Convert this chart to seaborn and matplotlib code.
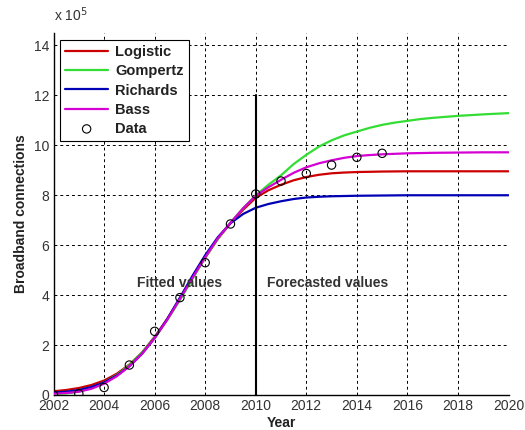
import matplotlib
matplotlib.use("Agg")
import matplotlib.pyplot as plt
import seaborn as sns
import pandas as pd

# ---- data (units of 1e5 connections) ----
years = [2002, 2002.5, 2003, 2003.5, 2004, 2004.5, 2005, 2005.5, 2006, 2006.5,
         2007, 2007.5, 2008, 2008.5, 2009, 2009.5, 2010, 2010.5, 2011, 2011.5,
         2012, 2012.5, 2013, 2013.5, 2014, 2014.5, 2015, 2015.5, 2016, 2016.5,
         2017, 2018, 2019, 2020]
logistic = [0.15, 0.2, 0.28, 0.4, 0.58, 0.85, 1.22, 1.7, 2.33, 3.05,
            3.85, 4.7, 5.5, 6.25, 6.88, 7.42, 7.9, 8.2, 8.42, 8.6,
            8.73, 8.82, 8.88, 8.91, 8.93, 8.94, 8.95, 8.955, 8.96, 8.96,
            8.96, 8.96, 8.96, 8.96]
gompertz = [0.02, 0.06, 0.14, 0.28, 0.5, 0.8, 1.2, 1.7, 2.3, 3.0,
            3.8, 4.65, 5.5, 6.25, 6.9, 7.48, 8.0, 8.42, 8.8, 9.25,
            9.62, 9.95, 10.2, 10.4, 10.55, 10.7, 10.82, 10.91, 10.98, 11.05,
            11.1, 11.18, 11.24, 11.29]
richards = [0.1, 0.13, 0.2, 0.32, 0.5, 0.78, 1.15, 1.65, 2.28, 3.05,
            3.9, 4.78, 5.6, 6.32, 6.88, 7.25, 7.5, 7.65, 7.76, 7.85,
            7.91, 7.94, 7.96, 7.97, 7.98, 7.985, 7.99, 7.995, 8.0, 8.0,
            8.0, 8.0, 8.0, 8.0]
bass = [0.05, 0.08, 0.13, 0.25, 0.45, 0.75, 1.15, 1.65, 2.28, 3.02,
        3.85, 4.7, 5.52, 6.28, 6.9, 7.48, 7.98, 8.32, 8.62, 8.9,
        9.12, 9.28, 9.4, 9.5, 9.57, 9.61, 9.64, 9.66, 9.68, 9.69,
        9.7, 9.71, 9.72, 9.72]

data_years = [2002, 2003, 2004, 2005, 2006, 2007, 2008, 2009, 2010,
              2011, 2012, 2013, 2014, 2015]
data_vals = [0.0, 0.05, 0.3, 1.2, 2.55, 3.9, 5.3, 6.85, 8.05,
             8.57, 8.87, 9.21, 9.52, 9.68]

x_ticks = [2002, 2004, 2006, 2008, 2010, 2012, 2014, 2016, 2018, 2020]
y_ticks = [0, 2, 4, 6, 8, 10, 12, 14]

sns.set_style("white")
plt.rcParams['font.family'] = ['Liberation Sans', 'DejaVu Sans']

fig = plt.figure(figsize=(5.25, 4.3), dpi=100)
ax = fig.add_axes([0.102, 0.0814, 0.8666, 0.8419])

series = [("Logistic", logistic, "#cc0000"),
          ("Gompertz", gompertz, "#33dd33"),
          ("Richards", richards, "#0000b4"),
          ("Bass", bass, "#d400d4")]
for name, vals, col in series:
    df = pd.DataFrame({"Year": years, "Value": vals})
    sns.lineplot(data=df, x="Year", y="Value", ax=ax, color=col,
                 linewidth=1.6, label=name, zorder=3)

ddf = pd.DataFrame({"Year": data_years, "Value": data_vals})
sns.scatterplot(data=ddf, x="Year", y="Value", ax=ax, marker="o", s=36,
                facecolors="none", edgecolor="black", linewidth=0.8,
                label="Data", zorder=4)

# separation line between fitted and forecasted
ax.plot([2010, 2010], [0, 12], color="black", linewidth=1.5, zorder=5)

ax.text(2005.3, 4.5, "Fitted values", fontsize=10, fontweight="bold",
        color="#333333", va="center", ha="left")
ax.text(2010.45, 4.5, "Forecasted values", fontsize=10, fontweight="bold",
        color="#333333", va="center", ha="left")

ax.set_xlim(2002, 2020)
ax.set_ylim(0, 14.5)
ax.set_xticks(x_ticks)
ax.set_yticks(y_ticks)
ax.set_xticklabels([str(t) for t in x_ticks])
ax.set_yticklabels([str(t) for t in y_ticks])
ax.tick_params(direction="in", length=4, width=0.8, labelsize=10,
               labelcolor="#333333", color="black", pad=3)

ax.grid(True, color="black", linestyle=(0, (3, 3)), linewidth=0.7)
for s in ["top", "right"]:
    ax.spines[s].set_visible(False)
for s in ["left", "bottom"]:
    ax.spines[s].set_color("black")
    ax.spines[s].set_linewidth(1.0)

ax.set_xlabel("Year", fontsize=10, fontweight="bold", color="#222222", labelpad=2)
ax.set_ylabel("Broadband connections", fontsize=10, fontweight="bold",
              color="#222222", labelpad=4)

ax.text(0.0, 1.025, "x 10$^5$", transform=ax.transAxes, fontsize=10,
        color="#333333", ha="left", va="bottom")

leg = ax.legend(loc="upper left", bbox_to_anchor=(0.015, 0.98), fontsize=10.5,
                frameon=True, fancybox=False, framealpha=1, edgecolor="black",
                handlelength=2.9, labelspacing=0.35, borderpad=0.35,
                handletextpad=0.5, borderaxespad=0)
leg.get_frame().set_linewidth(0.8)
for t in leg.get_texts():
    t.set_fontweight("bold")
    t.set_color("#222222")

fig.savefig("out.png", dpi=100)
